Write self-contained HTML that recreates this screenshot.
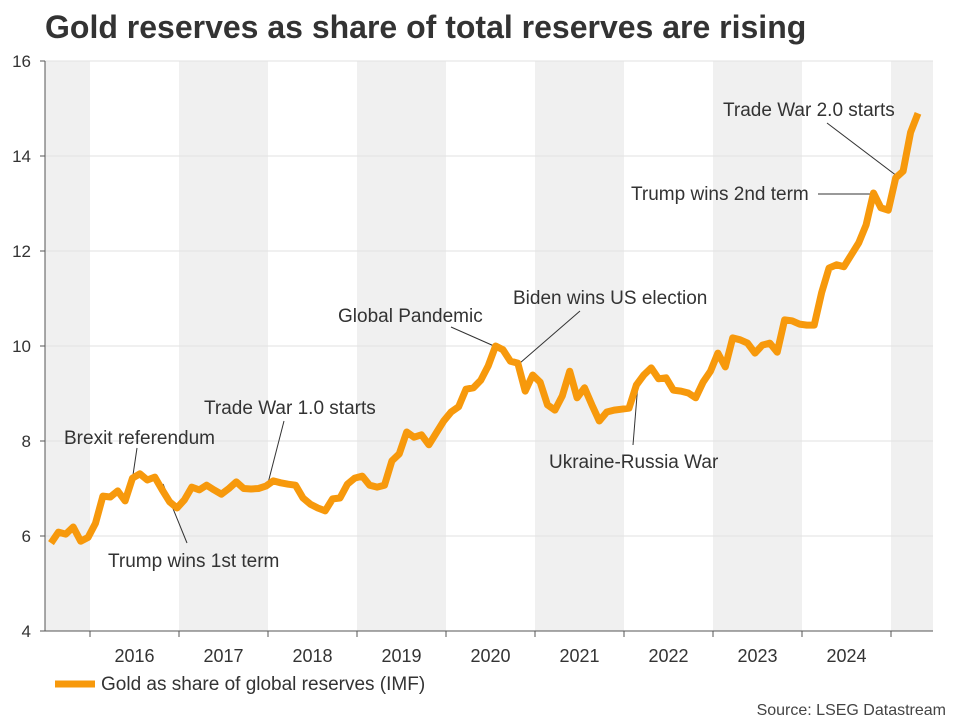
<!DOCTYPE html>
<html><head><meta charset="utf-8"><style>
body{margin:0;background:#fff;width:960px;height:720px;overflow:hidden;font-family:"Liberation Sans",Arial,sans-serif}
svg text{font-family:"Liberation Sans",Arial,sans-serif}
</style></head><body>
<svg id="chart" width="960" height="720" xmlns="http://www.w3.org/2000/svg">
<text x="45" y="38" font-size="32" font-weight="bold" fill="#333">Gold reserves as share of total reserves are rising</text>
<g id="bands"></g><g id="grid"></g><g id="axes"></g><g id="annos"></g><g id="series"></g>
<g>
<line x1="55" y1="684" x2="95" y2="684" stroke="#f7990c" stroke-width="7"/>
<text x="101" y="690" font-size="19" fill="#333">Gold as share of global reserves (IMF)</text>
</g>
<text x="946" y="715" font-size="16" fill="#444" text-anchor="end">Source: LSEG Datastream</text>
</svg>
<script>
const values=[5.85,6.08,6.04,6.19,5.89,5.97,6.27,6.84,6.82,6.95,6.74,7.22,7.31,7.18,7.24,6.97,6.72,6.59,6.76,7.03,6.97,7.07,6.97,6.88,7.0,7.14,7.0,6.99,7.0,7.05,7.16,7.12,7.09,7.07,6.8,6.67,6.59,6.53,6.78,6.8,7.09,7.22,7.26,7.07,7.03,7.07,7.58,7.73,8.19,8.08,8.13,7.92,8.17,8.42,8.61,8.72,9.09,9.12,9.28,9.58,10.0,9.92,9.68,9.64,9.05,9.39,9.24,8.76,8.65,8.95,9.47,8.91,9.12,8.76,8.42,8.61,8.65,8.67,8.69,9.18,9.39,9.54,9.31,9.33,9.07,9.05,9.01,8.91,9.24,9.47,9.85,9.56,10.17,10.13,10.06,9.85,10.02,10.06,9.87,10.55,10.53,10.46,10.44,10.44,11.12,11.64,11.71,11.67,11.92,12.17,12.55,13.22,12.91,12.86,13.54,13.68,14.5,14.9];
const yTicks=[4,6,8,10,12,14,16];
const years=[2016,2017,2018,2019,2020,2021,2022,2023,2024];
const tStart=2015.562, tEnd=2025.303;
const annotations=[
 {text:"Brexit referendum",tx:64,ty:444,x1:137,y1:448,x2:133,y2:475},
 {text:"Trump wins 1st term",tx:108,ty:567,x1:187,y1:543,x2:163,y2:484},
 {text:"Trade War 1.0 starts",tx:204,ty:414,x1:284,y1:421,x2:267,y2:487},
 {text:"Global Pandemic",tx:338,ty:322,x1:451,y1:327,x2:494,y2:346},
 {text:"Biden wins US election",tx:513,ty:304,x1:580,y1:311,x2:520,y2:363},
 {text:"Ukraine-Russia War",tx:549,ty:468,x1:633,y1:445,x2:638,y2:383},
 {text:"Trump wins 2nd term",tx:631,ty:200,x1:818,y1:194,x2:874,y2:194},
 {text:"Trade War 2.0 starts",tx:723,ty:116,x1:827,y1:123,x2:897,y2:176}
];
const L=45,R=933,T=61,B=631;
const X=t=>1+(t-2015)*89;
const Y=v=>B-(v-4)*(B-T)/12;
const NS="http://www.w3.org/2000/svg";
function mk(p,tag,at){const e=document.createElementNS(NS,tag);for(const k in at)e.setAttribute(k,at[k]);document.getElementById(p).appendChild(e);return e;}
[2015,2017,2019,2021,2023,2025].forEach(y=>{
 const x0=Math.max(L,X(y)),x1=Math.min(R,X(y+1));
 const r=mk('bands','rect',{x:x0,y:T,width:x1-x0,height:B-T,fill:'#f0f0f0'});
 
 
});
yTicks.forEach(v=>{
 if(v>4){const g=mk('grid','line',{x1:L,x2:R,y1:Y(v),y2:Y(v),stroke:'#e2e2e2','stroke-width':1});
 
 }
 const t=mk('axes','text',{x:31,y:Y(v)+6,'font-size':17,fill:'#333','text-anchor':'end'});
 t.textContent=v;
 
 
 const tk=mk('axes','line',{x1:L-5,x2:L,y1:Y(v),y2:Y(v),stroke:'#555'});
 
 
});
const ya=mk('axes','line',{x1:L,x2:L,y1:T,y2:B,stroke:'#555'});


const xa=mk('axes','line',{x1:L,x2:R,y1:B,y2:B,stroke:'#555'});


years.concat([2025]).forEach(y=>{
 const tk=mk('axes','line',{x1:X(y),x2:X(y),y1:B,y2:B+6,stroke:'#555'});
 
 
});
years.forEach(y=>{
 const t=mk('axes','text',{x:X(y+0.5),y:662,'font-size':18,fill:'#333','text-anchor':'middle'});
 t.textContent=y;
 
 
});
annotations.forEach(a=>{
 const l=mk('annos','line',{x1:a.x1,y1:a.y1,x2:a.x2,y2:a.y2,stroke:'#333','stroke-width':1});
 
 
 const t=mk('annos','text',{x:a.tx,y:a.ty,'font-size':19,fill:'#333'});
 t.textContent=a.text;
 
 
});
const n=values.length;
const pts=values.map((v,i)=>X(tStart+i*(tEnd-tStart)/(n-1)).toFixed(1)+','+Y(v).toFixed(1)).join(' ');
const pl=mk('series','polyline',{points:pts,fill:'none',stroke:'#f7990c','stroke-width':7,'stroke-linejoin':'round','stroke-linecap':'butt'});


</script>
</body></html>
